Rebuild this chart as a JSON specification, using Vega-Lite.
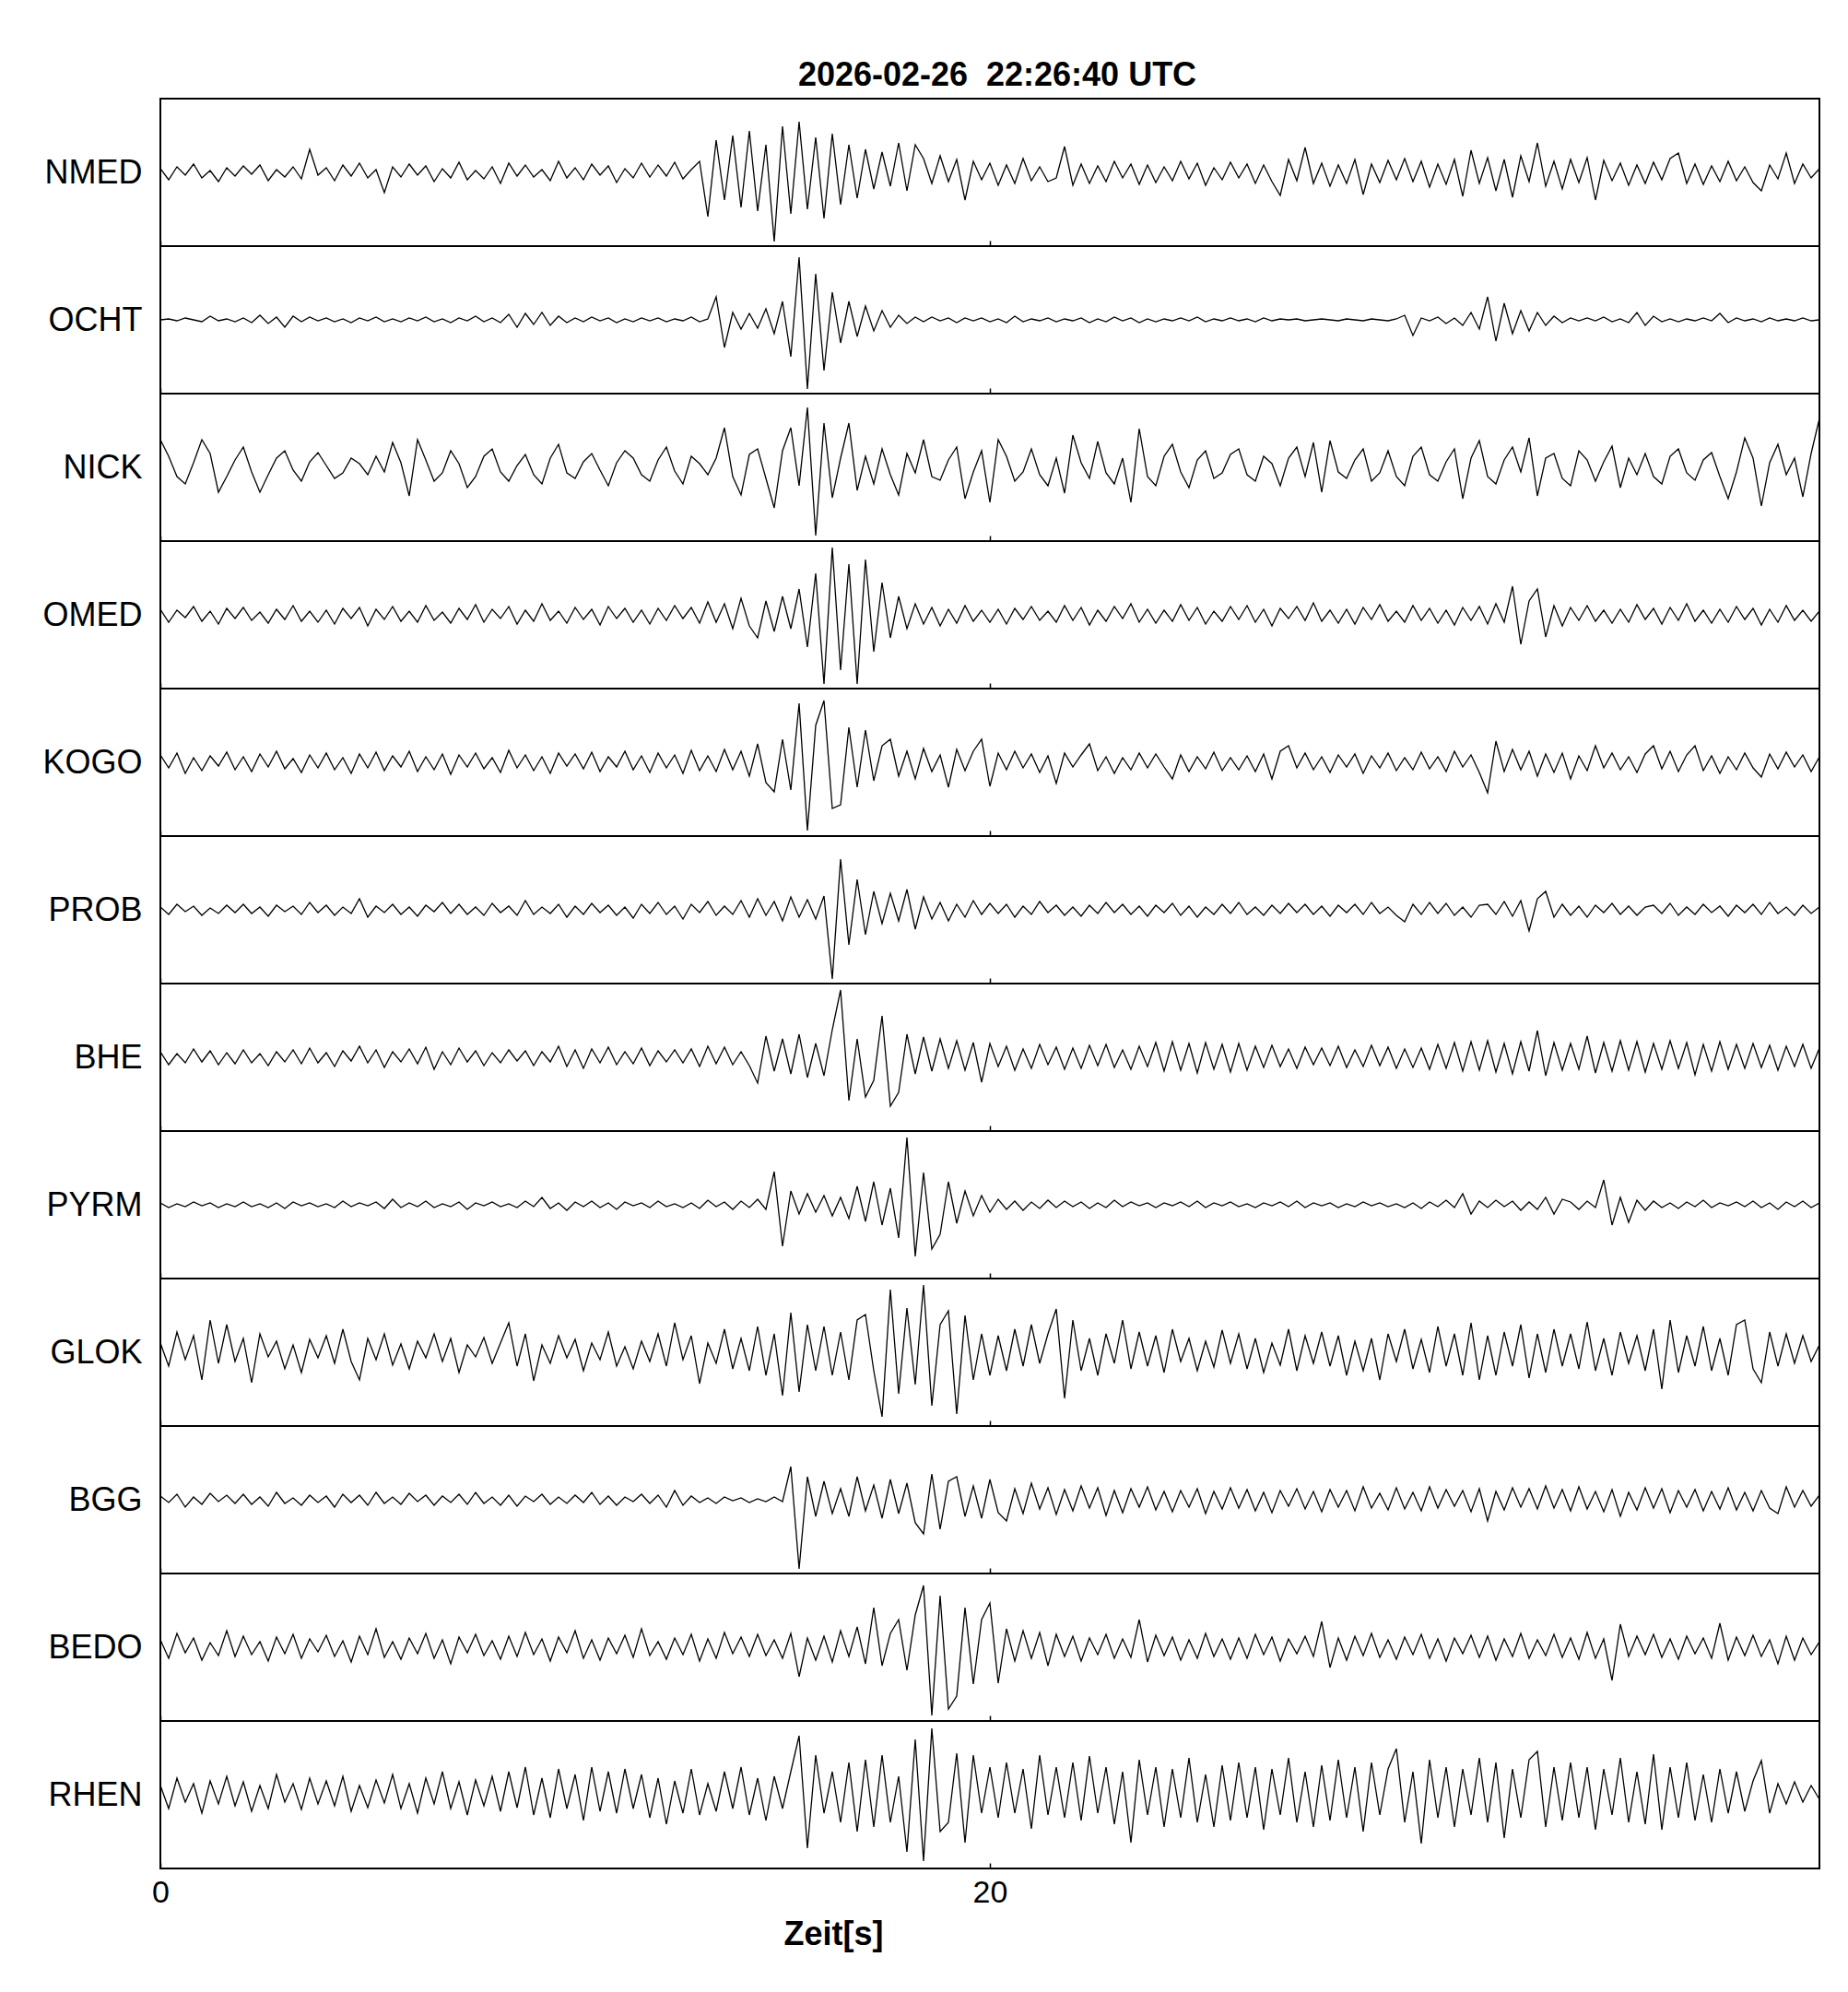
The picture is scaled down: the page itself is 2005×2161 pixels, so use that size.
{
"$schema": "https://vega.github.io/schema/vega-lite/v6.json",
"background": "white",
"padding": {"left": 44, "top": 64, "right": 33, "bottom": 10},
"title": {"text": "2026-02-26\u00a0 22:26:40 UTC", "fontSize": 36, "fontWeight": "bold", "font": "Liberation Sans", "color": "#000", "anchor": "middle", "frame": "group", "offset": 5, "dx": 8},
"spacing": 0,
"bounds": "flush",
"config": {
"font": "Liberation Sans",
"view": {"stroke": "#000", "strokeWidth": 2},
"axis": {"grid": false, "domain": false},
"axisX": {"tickSize": -6, "tickColor": "#000", "tickWidth": 1.5, "labelFlush": false, "labelFontSize": 34, "labelColor": "#000", "labelPadding": 42, "labelBaseline": "alphabetic", "titleFontSize": 36, "titleFontWeight": "bold", "titleColor": "#000", "titleX": 730, "titleY": 82, "titleBaseline": "alphabetic", "titleAlign": "center"},
"axisY": {"ticks": false, "labels": false, "titleAngle": 0, "titleAlign": "right", "titleBaseline": "middle", "titleX": -20, "titleY": 80, "titleFontSize": 36, "titleFontWeight": "normal", "titleColor": "#000"}
},
"datasets": {
"NMED": [
{"t":0,"v":4},{"t":0.2,"v":-8},{"t":0.4,"v":6},{"t":0.6,"v":-3},{"t":0.8,"v":9},{"t":1,"v":-6},{"t":1.2,"v":2},{"t":1.4,"v":-10},{"t":1.6,"v":5},{"t":1.8,"v":-4},
{"t":2,"v":7},{"t":2.2,"v":-2},{"t":2.4,"v":8},{"t":2.6,"v":-9},{"t":2.8,"v":3},{"t":3,"v":-5},{"t":3.2,"v":6},{"t":3.4,"v":-7},{"t":3.6,"v":25},{"t":3.8,"v":-3},
{"t":4,"v":5},{"t":4.2,"v":-9},{"t":4.4,"v":8},{"t":4.6,"v":-4},{"t":4.8,"v":10},{"t":5,"v":-6},{"t":5.2,"v":3},{"t":5.4,"v":-22},{"t":5.6,"v":6},{"t":5.8,"v":-5},
{"t":6,"v":9},{"t":6.2,"v":-3},{"t":6.4,"v":7},{"t":6.6,"v":-10},{"t":6.8,"v":4},{"t":7,"v":-6},{"t":7.2,"v":11},{"t":7.4,"v":-8},{"t":7.6,"v":2},{"t":7.8,"v":-7},
{"t":8,"v":6},{"t":8.2,"v":-12},{"t":8.4,"v":10},{"t":8.6,"v":-4},{"t":8.8,"v":8},{"t":9,"v":-5},{"t":9.2,"v":3},{"t":9.4,"v":-9},{"t":9.6,"v":12},{"t":9.8,"v":-6},
{"t":10,"v":5},{"t":10.2,"v":-8},{"t":10.4,"v":9},{"t":10.6,"v":-3},{"t":10.8,"v":7},{"t":11,"v":-11},{"t":11.2,"v":4},{"t":11.4,"v":-6},{"t":11.6,"v":10},{"t":11.8,"v":-5},
{"t":12,"v":8},{"t":12.2,"v":-4},{"t":12.4,"v":11},{"t":12.6,"v":-7},{"t":12.8,"v":3},{"t":13,"v":12},{"t":13.2,"v":-48},{"t":13.4,"v":35},{"t":13.6,"v":-30},{"t":13.8,"v":40},
{"t":14,"v":-38},{"t":14.2,"v":45},{"t":14.4,"v":-42},{"t":14.6,"v":30},{"t":14.8,"v":-75},{"t":15,"v":50},{"t":15.2,"v":-45},{"t":15.4,"v":55},{"t":15.6,"v":-40},{"t":15.8,"v":38},
{"t":16,"v":-50},{"t":16.2,"v":42},{"t":16.4,"v":-35},{"t":16.6,"v":30},{"t":16.8,"v":-28},{"t":17,"v":25},{"t":17.2,"v":-18},{"t":17.4,"v":22},{"t":17.6,"v":-15},{"t":17.8,"v":32},
{"t":18,"v":-20},{"t":18.2,"v":30},{"t":18.4,"v":15},{"t":18.6,"v":-12},{"t":18.8,"v":18},{"t":19,"v":-10},{"t":19.2,"v":14},{"t":19.4,"v":-30},{"t":19.6,"v":12},{"t":19.8,"v":-8},
{"t":20,"v":10},{"t":20.2,"v":-14},{"t":20.4,"v":8},{"t":20.6,"v":-12},{"t":20.8,"v":15},{"t":21,"v":-9},{"t":21.2,"v":6},{"t":21.4,"v":-10},{"t":21.6,"v":-6},{"t":21.8,"v":28},
{"t":22,"v":-14},{"t":22.2,"v":9},{"t":22.4,"v":-12},{"t":22.6,"v":7},{"t":22.8,"v":-10},{"t":23,"v":12},{"t":23.2,"v":-6},{"t":23.4,"v":9},{"t":23.6,"v":-13},{"t":23.8,"v":8},
{"t":24,"v":-11},{"t":24.2,"v":6},{"t":24.4,"v":-9},{"t":24.6,"v":12},{"t":24.8,"v":-7},{"t":25,"v":10},{"t":25.2,"v":-14},{"t":25.4,"v":5},{"t":25.6,"v":-8},{"t":25.8,"v":11},
{"t":26,"v":-6},{"t":26.2,"v":9},{"t":26.4,"v":-12},{"t":26.6,"v":8},{"t":26.8,"v":-10},{"t":27,"v":-25},{"t":27.2,"v":14},{"t":27.4,"v":-9},{"t":27.6,"v":27},{"t":27.8,"v":-12},
{"t":28,"v":10},{"t":28.2,"v":-15},{"t":28.4,"v":8},{"t":28.6,"v":-12},{"t":28.8,"v":14},{"t":29,"v":-24},{"t":29.2,"v":9},{"t":29.4,"v":-11},{"t":29.6,"v":13},{"t":29.8,"v":-8},
{"t":30,"v":15},{"t":30.2,"v":-10},{"t":30.4,"v":12},{"t":30.6,"v":-16},{"t":30.8,"v":9},{"t":31,"v":-13},{"t":31.2,"v":14},{"t":31.4,"v":-26},{"t":31.6,"v":24},{"t":31.8,"v":-12},
{"t":32,"v":16},{"t":32.2,"v":-20},{"t":32.4,"v":14},{"t":32.6,"v":-27},{"t":32.8,"v":18},{"t":33,"v":-10},{"t":33.2,"v":32},{"t":33.4,"v":-15},{"t":33.6,"v":12},{"t":33.8,"v":-18},
{"t":34,"v":14},{"t":34.2,"v":-11},{"t":34.4,"v":16},{"t":34.6,"v":-30},{"t":34.8,"v":13},{"t":35,"v":-9},{"t":35.2,"v":10},{"t":35.4,"v":-14},{"t":35.6,"v":8},{"t":35.8,"v":-12},
{"t":36,"v":11},{"t":36.2,"v":-8},{"t":36.4,"v":15},{"t":36.6,"v":21},{"t":36.8,"v":-12},{"t":37,"v":9},{"t":37.2,"v":-13},{"t":37.4,"v":7},{"t":37.6,"v":-10},{"t":37.8,"v":12},
{"t":38,"v":-9},{"t":38.2,"v":6},{"t":38.4,"v":-11},{"t":38.6,"v":-20},{"t":38.8,"v":8},{"t":39,"v":-7},{"t":39.2,"v":21},{"t":39.4,"v":-12},{"t":39.6,"v":9},{"t":39.8,"v":-6},
{"t":40,"v":4}
],
"OCHT": [
{"t":0,"v":0},{"t":0.2,"v":1},{"t":0.4,"v":-1},{"t":0.6,"v":2},{"t":0.8,"v":0},{"t":1,"v":-2},{"t":1.2,"v":4},{"t":1.4,"v":-1},{"t":1.6,"v":1},{"t":1.8,"v":-2},
{"t":2,"v":2},{"t":2.2,"v":-3},{"t":2.4,"v":5},{"t":2.6,"v":-4},{"t":2.8,"v":3},{"t":3,"v":-8},{"t":3.2,"v":4},{"t":3.4,"v":-2},{"t":3.6,"v":3},{"t":3.8,"v":-1},
{"t":4,"v":2},{"t":4.2,"v":-2},{"t":4.4,"v":1},{"t":4.6,"v":-3},{"t":4.8,"v":2},{"t":5,"v":-1},{"t":5.2,"v":3},{"t":5.4,"v":-2},{"t":5.6,"v":1},{"t":5.8,"v":-2},
{"t":6,"v":2},{"t":6.2,"v":-1},{"t":6.4,"v":3},{"t":6.6,"v":-2},{"t":6.8,"v":1},{"t":7,"v":-3},{"t":7.2,"v":2},{"t":7.4,"v":-1},{"t":7.6,"v":4},{"t":7.8,"v":-2},
{"t":8,"v":2},{"t":8.2,"v":-3},{"t":8.4,"v":6},{"t":8.6,"v":-8},{"t":8.8,"v":7},{"t":9,"v":-5},{"t":9.2,"v":8},{"t":9.4,"v":-6},{"t":9.6,"v":4},{"t":9.8,"v":-3},
{"t":10,"v":2},{"t":10.2,"v":-2},{"t":10.4,"v":3},{"t":10.6,"v":-1},{"t":10.8,"v":2},{"t":11,"v":-3},{"t":11.2,"v":1},{"t":11.4,"v":-2},{"t":11.6,"v":2},{"t":11.8,"v":-1},
{"t":12,"v":2},{"t":12.2,"v":-2},{"t":12.4,"v":1},{"t":12.6,"v":-1},{"t":12.8,"v":3},{"t":13,"v":-2},{"t":13.2,"v":1},{"t":13.4,"v":25},{"t":13.6,"v":-30},{"t":13.8,"v":8},
{"t":14,"v":-10},{"t":14.2,"v":7},{"t":14.4,"v":-9},{"t":14.6,"v":12},{"t":14.8,"v":-15},{"t":15,"v":20},{"t":15.2,"v":-40},{"t":15.4,"v":68},{"t":15.6,"v":-75},{"t":15.8,"v":50},
{"t":16,"v":-55},{"t":16.2,"v":30},{"t":16.4,"v":-25},{"t":16.6,"v":20},{"t":16.8,"v":-18},{"t":17,"v":15},{"t":17.2,"v":-12},{"t":17.4,"v":10},{"t":17.6,"v":-8},{"t":17.8,"v":5},
{"t":18,"v":-4},{"t":18.2,"v":3},{"t":18.4,"v":-2},{"t":18.6,"v":3},{"t":18.8,"v":-1},{"t":19,"v":2},{"t":19.2,"v":-3},{"t":19.4,"v":2},{"t":19.6,"v":-1},{"t":19.8,"v":2},
{"t":20,"v":-2},{"t":20.2,"v":1},{"t":20.4,"v":-3},{"t":20.6,"v":4},{"t":20.8,"v":-2},{"t":21,"v":1},{"t":21.2,"v":-1},{"t":21.4,"v":2},{"t":21.6,"v":-2},{"t":21.8,"v":1},
{"t":22,"v":-1},{"t":22.2,"v":2},{"t":22.4,"v":-3},{"t":22.6,"v":1},{"t":22.8,"v":-2},{"t":23,"v":3},{"t":23.2,"v":-1},{"t":23.4,"v":2},{"t":23.6,"v":-3},{"t":23.8,"v":1},
{"t":24,"v":-2},{"t":24.2,"v":1},{"t":24.4,"v":-1},{"t":24.6,"v":2},{"t":24.8,"v":-1},{"t":25,"v":3},{"t":25.2,"v":-2},{"t":25.4,"v":1},{"t":25.6,"v":-1},{"t":25.8,"v":2},
{"t":26,"v":-1},{"t":26.2,"v":1},{"t":26.4,"v":-2},{"t":26.6,"v":2},{"t":26.8,"v":-1},{"t":27,"v":1},{"t":27.2,"v":0},{"t":27.4,"v":1},{"t":27.6,"v":-1},{"t":27.8,"v":0},
{"t":28,"v":1},{"t":28.2,"v":0},{"t":28.4,"v":-1},{"t":28.6,"v":1},{"t":28.8,"v":0},{"t":29,"v":-1},{"t":29.2,"v":1},{"t":29.4,"v":0},{"t":29.6,"v":-1},{"t":29.8,"v":1},
{"t":30,"v":5},{"t":30.2,"v":-17},{"t":30.4,"v":2},{"t":30.6,"v":-1},{"t":30.8,"v":3},{"t":31,"v":-4},{"t":31.2,"v":2},{"t":31.4,"v":-6},{"t":31.6,"v":8},{"t":31.8,"v":-10},
{"t":32,"v":25},{"t":32.2,"v":-23},{"t":32.4,"v":18},{"t":32.6,"v":-15},{"t":32.8,"v":10},{"t":33,"v":-12},{"t":33.2,"v":8},{"t":33.4,"v":-6},{"t":33.6,"v":4},{"t":33.8,"v":-3},
{"t":34,"v":2},{"t":34.2,"v":-1},{"t":34.4,"v":2},{"t":34.6,"v":-1},{"t":34.8,"v":3},{"t":35,"v":-2},{"t":35.2,"v":1},{"t":35.4,"v":-3},{"t":35.6,"v":8},{"t":35.8,"v":-6},
{"t":36,"v":4},{"t":36.2,"v":-2},{"t":36.4,"v":1},{"t":36.6,"v":-2},{"t":36.8,"v":1},{"t":37,"v":-1},{"t":37.2,"v":2},{"t":37.4,"v":-1},{"t":37.6,"v":7},{"t":37.8,"v":-3},
{"t":38,"v":2},{"t":38.2,"v":-1},{"t":38.4,"v":1},{"t":38.6,"v":-2},{"t":38.8,"v":2},{"t":39,"v":-1},{"t":39.2,"v":1},{"t":39.4,"v":-1},{"t":39.6,"v":2},{"t":39.8,"v":-1},
{"t":40,"v":0}
],
"NICK": [
{"t":0,"v":30},{"t":0.2,"v":12},{"t":0.4,"v":-10},{"t":0.6,"v":-18},{"t":0.8,"v":5},{"t":1,"v":30},{"t":1.2,"v":15},{"t":1.4,"v":-27},{"t":1.6,"v":-10},{"t":1.8,"v":8},
{"t":2,"v":22},{"t":2.2,"v":-5},{"t":2.4,"v":-27},{"t":2.6,"v":-8},{"t":2.8,"v":10},{"t":3,"v":18},{"t":3.2,"v":-3},{"t":3.4,"v":-15},{"t":3.6,"v":6},{"t":3.8,"v":16},
{"t":4,"v":2},{"t":4.2,"v":-12},{"t":4.4,"v":-6},{"t":4.6,"v":10},{"t":4.8,"v":4},{"t":5,"v":-8},{"t":5.2,"v":12},{"t":5.4,"v":-5},{"t":5.6,"v":27},{"t":5.8,"v":5},
{"t":6,"v":-31},{"t":6.2,"v":30},{"t":6.4,"v":8},{"t":6.6,"v":-15},{"t":6.8,"v":-6},{"t":7,"v":18},{"t":7.2,"v":4},{"t":7.4,"v":-22},{"t":7.6,"v":-10},{"t":7.8,"v":12},
{"t":8,"v":20},{"t":8.2,"v":-5},{"t":8.4,"v":-15},{"t":8.6,"v":2},{"t":8.8,"v":14},{"t":9,"v":-8},{"t":9.2,"v":-18},{"t":9.4,"v":10},{"t":9.6,"v":25},{"t":9.8,"v":-6},
{"t":10,"v":-12},{"t":10.2,"v":6},{"t":10.4,"v":15},{"t":10.6,"v":-3},{"t":10.8,"v":-20},{"t":11,"v":5},{"t":11.2,"v":18},{"t":11.4,"v":10},{"t":11.6,"v":-8},{"t":11.8,"v":-15},
{"t":12,"v":8},{"t":12.2,"v":22},{"t":12.4,"v":-4},{"t":12.6,"v":-18},{"t":12.8,"v":12},{"t":13,"v":4},{"t":13.2,"v":-8},{"t":13.4,"v":10},{"t":13.6,"v":43},{"t":13.8,"v":-10},
{"t":14,"v":-30},{"t":14.2,"v":14},{"t":14.4,"v":20},{"t":14.6,"v":-12},{"t":14.8,"v":-44},{"t":15,"v":18},{"t":15.2,"v":43},{"t":15.4,"v":-20},{"t":15.6,"v":65},{"t":15.8,"v":-74},
{"t":16,"v":48},{"t":16.2,"v":-33},{"t":16.4,"v":10},{"t":16.6,"v":48},{"t":16.8,"v":-25},{"t":17,"v":12},{"t":17.2,"v":-18},{"t":17.4,"v":20},{"t":17.6,"v":-8},{"t":17.8,"v":-30},
{"t":18,"v":15},{"t":18.2,"v":-6},{"t":18.4,"v":30},{"t":18.6,"v":-10},{"t":18.8,"v":-14},{"t":19,"v":8},{"t":19.2,"v":22},{"t":19.4,"v":-34},{"t":19.6,"v":-5},{"t":19.8,"v":18},
{"t":20,"v":-38},{"t":20.2,"v":30},{"t":20.4,"v":12},{"t":20.6,"v":-15},{"t":20.8,"v":-5},{"t":21,"v":20},{"t":21.2,"v":-8},{"t":21.4,"v":-20},{"t":21.6,"v":10},{"t":21.8,"v":-28},
{"t":22,"v":35},{"t":22.2,"v":5},{"t":22.4,"v":-12},{"t":22.6,"v":28},{"t":22.8,"v":-6},{"t":23,"v":-18},{"t":23.2,"v":10},{"t":23.4,"v":-38},{"t":23.6,"v":42},{"t":23.8,"v":-10},
{"t":24,"v":-20},{"t":24.2,"v":12},{"t":24.4,"v":25},{"t":24.6,"v":-5},{"t":24.8,"v":-22},{"t":25,"v":8},{"t":25.2,"v":18},{"t":25.4,"v":-12},{"t":25.6,"v":-6},{"t":25.8,"v":14},
{"t":26,"v":20},{"t":26.2,"v":-8},{"t":26.4,"v":-15},{"t":26.6,"v":12},{"t":26.8,"v":4},{"t":27,"v":-20},{"t":27.2,"v":10},{"t":27.4,"v":22},{"t":27.6,"v":-10},{"t":27.8,"v":27},
{"t":28,"v":-27},{"t":28.2,"v":29},{"t":28.4,"v":-5},{"t":28.6,"v":-12},{"t":28.8,"v":8},{"t":29,"v":20},{"t":29.2,"v":-15},{"t":29.4,"v":-6},{"t":29.6,"v":18},{"t":29.8,"v":-10},
{"t":30,"v":-20},{"t":30.2,"v":12},{"t":30.4,"v":22},{"t":30.6,"v":-8},{"t":30.8,"v":-15},{"t":31,"v":6},{"t":31.2,"v":20},{"t":31.4,"v":-34},{"t":31.6,"v":10},{"t":31.8,"v":29},
{"t":32,"v":-10},{"t":32.2,"v":-18},{"t":32.4,"v":8},{"t":32.6,"v":22},{"t":32.8,"v":-5},{"t":33,"v":32},{"t":33.2,"v":-31},{"t":33.4,"v":10},{"t":33.6,"v":15},{"t":33.8,"v":-12},
{"t":34,"v":-20},{"t":34.2,"v":18},{"t":34.4,"v":8},{"t":34.6,"v":-15},{"t":34.8,"v":6},{"t":35,"v":23},{"t":35.2,"v":-22},{"t":35.4,"v":10},{"t":35.6,"v":-8},{"t":35.8,"v":15},
{"t":36,"v":-10},{"t":36.2,"v":-18},{"t":36.4,"v":12},{"t":36.6,"v":20},{"t":36.8,"v":-6},{"t":37,"v":-14},{"t":37.2,"v":8},{"t":37.4,"v":16},{"t":37.6,"v":-10},{"t":37.8,"v":-34},
{"t":38,"v":-5},{"t":38.2,"v":32},{"t":38.4,"v":10},{"t":38.6,"v":-42},{"t":38.8,"v":5},{"t":39,"v":25},{"t":39.2,"v":-8},{"t":39.4,"v":10},{"t":39.6,"v":-32},{"t":39.8,"v":15},
{"t":40,"v":53}
],
"OMED": [
{"t":0,"v":6},{"t":0.2,"v":-8},{"t":0.4,"v":5},{"t":0.6,"v":-3},{"t":0.8,"v":9},{"t":1,"v":-7},{"t":1.2,"v":4},{"t":1.4,"v":-10},{"t":1.6,"v":7},{"t":1.8,"v":-4},
{"t":2,"v":8},{"t":2.2,"v":-6},{"t":2.4,"v":3},{"t":2.6,"v":-9},{"t":2.8,"v":6},{"t":3,"v":-5},{"t":3.2,"v":10},{"t":3.4,"v":-7},{"t":3.6,"v":4},{"t":3.8,"v":-8},
{"t":4,"v":5},{"t":4.2,"v":-10},{"t":4.4,"v":7},{"t":4.6,"v":-4},{"t":4.8,"v":8},{"t":5,"v":-12},{"t":5.2,"v":6},{"t":5.4,"v":-5},{"t":5.6,"v":9},{"t":5.8,"v":-7},
{"t":6,"v":4},{"t":6.2,"v":-8},{"t":6.4,"v":10},{"t":6.6,"v":-6},{"t":6.8,"v":3},{"t":7,"v":-9},{"t":7.2,"v":7},{"t":7.4,"v":-5},{"t":7.6,"v":11},{"t":7.8,"v":-8},
{"t":8,"v":6},{"t":8.2,"v":-4},{"t":8.4,"v":9},{"t":8.6,"v":-10},{"t":8.8,"v":5},{"t":9,"v":-7},{"t":9.2,"v":12},{"t":9.4,"v":-6},{"t":9.6,"v":4},{"t":9.8,"v":-9},
{"t":10,"v":8},{"t":10.2,"v":-5},{"t":10.4,"v":6},{"t":10.6,"v":-11},{"t":10.8,"v":9},{"t":11,"v":-4},{"t":11.2,"v":7},{"t":11.4,"v":-8},{"t":11.6,"v":5},{"t":11.8,"v":-10},
{"t":12,"v":7},{"t":12.2,"v":-6},{"t":12.4,"v":10},{"t":12.6,"v":-4},{"t":12.8,"v":8},{"t":13,"v":-9},{"t":13.2,"v":14},{"t":13.4,"v":-8},{"t":13.6,"v":12},{"t":13.8,"v":-15},
{"t":14,"v":18},{"t":14.2,"v":-12},{"t":14.4,"v":-25},{"t":14.6,"v":15},{"t":14.8,"v":-18},{"t":15,"v":20},{"t":15.2,"v":-15},{"t":15.4,"v":28},{"t":15.6,"v":-35},{"t":15.8,"v":45},
{"t":16,"v":-75},{"t":16.2,"v":73},{"t":16.4,"v":-60},{"t":16.6,"v":55},{"t":16.8,"v":-75},{"t":17,"v":60},{"t":17.2,"v":-40},{"t":17.4,"v":35},{"t":17.6,"v":-25},{"t":17.8,"v":20},
{"t":18,"v":-15},{"t":18.2,"v":12},{"t":18.4,"v":-10},{"t":18.6,"v":8},{"t":18.8,"v":-12},{"t":19,"v":6},{"t":19.2,"v":-9},{"t":19.4,"v":10},{"t":19.6,"v":-7},{"t":19.8,"v":5},
{"t":20,"v":-8},{"t":20.2,"v":6},{"t":20.4,"v":-10},{"t":20.6,"v":7},{"t":20.8,"v":-5},{"t":21,"v":9},{"t":21.2,"v":-6},{"t":21.4,"v":4},{"t":21.6,"v":-8},{"t":21.8,"v":10},
{"t":22,"v":-6},{"t":22.2,"v":8},{"t":22.4,"v":-11},{"t":22.6,"v":5},{"t":22.8,"v":-7},{"t":23,"v":9},{"t":23.2,"v":-4},{"t":23.4,"v":12},{"t":23.6,"v":-8},{"t":23.8,"v":6},
{"t":24,"v":-9},{"t":24.2,"v":5},{"t":24.4,"v":-7},{"t":24.6,"v":11},{"t":24.8,"v":-6},{"t":25,"v":8},{"t":25.2,"v":-10},{"t":25.4,"v":4},{"t":25.6,"v":-7},{"t":25.8,"v":9},
{"t":26,"v":-5},{"t":26.2,"v":10},{"t":26.4,"v":-8},{"t":26.6,"v":6},{"t":26.8,"v":-12},{"t":27,"v":7},{"t":27.2,"v":-4},{"t":27.4,"v":9},{"t":27.6,"v":-6},{"t":27.8,"v":13},
{"t":28,"v":-7},{"t":28.2,"v":5},{"t":28.4,"v":-9},{"t":28.6,"v":6},{"t":28.8,"v":-10},{"t":29,"v":8},{"t":29.2,"v":-5},{"t":29.4,"v":11},{"t":29.6,"v":-7},{"t":29.8,"v":4},
{"t":30,"v":-8},{"t":30.2,"v":10},{"t":30.4,"v":-6},{"t":30.6,"v":7},{"t":30.8,"v":-9},{"t":31,"v":5},{"t":31.2,"v":-11},{"t":31.4,"v":8},{"t":31.6,"v":-6},{"t":31.8,"v":9},
{"t":32,"v":-10},{"t":32.2,"v":12},{"t":32.4,"v":-8},{"t":32.6,"v":31},{"t":32.8,"v":-32},{"t":33,"v":15},{"t":33.2,"v":28},{"t":33.4,"v":-24},{"t":33.6,"v":10},{"t":33.8,"v":-12},
{"t":34,"v":8},{"t":34.2,"v":-6},{"t":34.4,"v":10},{"t":34.6,"v":-7},{"t":34.8,"v":5},{"t":35,"v":-9},{"t":35.2,"v":6},{"t":35.4,"v":-8},{"t":35.6,"v":11},{"t":35.8,"v":-5},
{"t":36,"v":7},{"t":36.2,"v":-10},{"t":36.4,"v":8},{"t":36.6,"v":-6},{"t":36.8,"v":12},{"t":37,"v":-7},{"t":37.2,"v":5},{"t":37.4,"v":-9},{"t":37.6,"v":6},{"t":37.8,"v":-8},
{"t":38,"v":9},{"t":38.2,"v":-5},{"t":38.4,"v":7},{"t":38.6,"v":-11},{"t":38.8,"v":6},{"t":39,"v":-8},{"t":39.2,"v":10},{"t":39.4,"v":-6},{"t":39.6,"v":5},{"t":39.8,"v":-7},
{"t":40,"v":4}
],
"KOGO": [
{"t":0,"v":8},{"t":0.2,"v":-6},{"t":0.4,"v":10},{"t":0.6,"v":-12},{"t":0.8,"v":5},{"t":1,"v":-9},{"t":1.2,"v":7},{"t":1.4,"v":-4},{"t":1.6,"v":11},{"t":1.8,"v":-8},
{"t":2,"v":6},{"t":2.2,"v":-10},{"t":2.4,"v":9},{"t":2.6,"v":-5},{"t":2.8,"v":12},{"t":3,"v":-7},{"t":3.2,"v":4},{"t":3.4,"v":-11},{"t":3.6,"v":8},{"t":3.8,"v":-6},
{"t":4,"v":10},{"t":4.2,"v":-8},{"t":4.4,"v":5},{"t":4.6,"v":-12},{"t":4.8,"v":9},{"t":5,"v":-6},{"t":5.2,"v":11},{"t":5.4,"v":-9},{"t":5.6,"v":7},{"t":5.8,"v":-5},
{"t":6,"v":12},{"t":6.2,"v":-10},{"t":6.4,"v":6},{"t":6.6,"v":-8},{"t":6.8,"v":9},{"t":7,"v":-13},{"t":7.2,"v":8},{"t":7.4,"v":-5},{"t":7.6,"v":10},{"t":7.8,"v":-7},
{"t":8,"v":5},{"t":8.2,"v":-11},{"t":8.4,"v":13},{"t":8.6,"v":-6},{"t":8.8,"v":8},{"t":9,"v":-9},{"t":9.2,"v":6},{"t":9.4,"v":-12},{"t":9.6,"v":10},{"t":9.8,"v":-4},
{"t":10,"v":9},{"t":10.2,"v":-7},{"t":10.4,"v":11},{"t":10.6,"v":-10},{"t":10.8,"v":6},{"t":11,"v":-5},{"t":11.2,"v":12},{"t":11.4,"v":-8},{"t":11.6,"v":7},{"t":11.8,"v":-11},
{"t":12,"v":10},{"t":12.2,"v":-6},{"t":12.4,"v":8},{"t":12.6,"v":-12},{"t":12.8,"v":13},{"t":13,"v":-9},{"t":13.2,"v":7},{"t":13.4,"v":-10},{"t":13.6,"v":14},{"t":13.8,"v":-8},
{"t":14,"v":12},{"t":14.2,"v":-15},{"t":14.4,"v":20},{"t":14.6,"v":-22},{"t":14.8,"v":-32},{"t":15,"v":25},{"t":15.2,"v":-30},{"t":15.4,"v":64},{"t":15.6,"v":-74},{"t":15.8,"v":40},
{"t":16,"v":67},{"t":16.2,"v":-50},{"t":16.4,"v":-46},{"t":16.6,"v":38},{"t":16.8,"v":-27},{"t":17,"v":35},{"t":17.2,"v":-20},{"t":17.4,"v":18},{"t":17.6,"v":25},{"t":17.8,"v":-15},
{"t":18,"v":12},{"t":18.2,"v":-18},{"t":18.4,"v":15},{"t":18.6,"v":-10},{"t":18.8,"v":8},{"t":19,"v":-27},{"t":19.2,"v":14},{"t":19.4,"v":-9},{"t":19.6,"v":12},{"t":19.8,"v":25},
{"t":20,"v":-26},{"t":20.2,"v":10},{"t":20.4,"v":-8},{"t":20.6,"v":12},{"t":20.8,"v":-6},{"t":21,"v":9},{"t":21.2,"v":-11},{"t":21.4,"v":7},{"t":21.6,"v":-23},{"t":21.8,"v":10},
{"t":22,"v":-5},{"t":22.2,"v":8},{"t":22.4,"v":20},{"t":22.6,"v":-9},{"t":22.8,"v":6},{"t":23,"v":-12},{"t":23.2,"v":5},{"t":23.4,"v":-8},{"t":23.6,"v":10},{"t":23.8,"v":-6},
{"t":24,"v":9},{"t":24.2,"v":-5},{"t":24.4,"v":-18},{"t":24.6,"v":8},{"t":24.8,"v":-10},{"t":25,"v":6},{"t":25.2,"v":-7},{"t":25.4,"v":11},{"t":25.6,"v":-9},{"t":25.8,"v":5},
{"t":26,"v":-8},{"t":26.2,"v":7},{"t":26.4,"v":-10},{"t":26.6,"v":9},{"t":26.8,"v":-18},{"t":27,"v":12},{"t":27.2,"v":18},{"t":27.4,"v":-6},{"t":27.6,"v":10},{"t":27.8,"v":-8},
{"t":28,"v":6},{"t":28.2,"v":-11},{"t":28.4,"v":8},{"t":28.6,"v":-5},{"t":28.8,"v":9},{"t":29,"v":-12},{"t":29.2,"v":7},{"t":29.4,"v":-6},{"t":29.6,"v":10},{"t":29.8,"v":-9},
{"t":30,"v":5},{"t":30.2,"v":-8},{"t":30.4,"v":11},{"t":30.6,"v":-7},{"t":30.8,"v":6},{"t":31,"v":-10},{"t":31.2,"v":12},{"t":31.4,"v":-5},{"t":31.6,"v":8},{"t":31.8,"v":-11},
{"t":32,"v":-33},{"t":32.2,"v":23},{"t":32.4,"v":-10},{"t":32.6,"v":14},{"t":32.8,"v":-8},{"t":33,"v":12},{"t":33.2,"v":-15},{"t":33.4,"v":9},{"t":33.6,"v":-11},{"t":33.8,"v":10},
{"t":34,"v":-18},{"t":34.2,"v":7},{"t":34.4,"v":-9},{"t":34.6,"v":18},{"t":34.8,"v":-6},{"t":35,"v":10},{"t":35.2,"v":-8},{"t":35.4,"v":6},{"t":35.6,"v":-11},{"t":35.8,"v":9},
{"t":36,"v":18},{"t":36.2,"v":-7},{"t":36.4,"v":12},{"t":36.6,"v":-10},{"t":36.8,"v":8},{"t":37,"v":18},{"t":37.2,"v":-9},{"t":37.4,"v":7},{"t":37.6,"v":-12},{"t":37.8,"v":6},
{"t":38,"v":-8},{"t":38.2,"v":10},{"t":38.4,"v":-6},{"t":38.6,"v":-16},{"t":38.8,"v":9},{"t":39,"v":-7},{"t":39.2,"v":11},{"t":39.4,"v":-5},{"t":39.6,"v":8},{"t":39.8,"v":-10},
{"t":40,"v":6}
],
"PROB": [
{"t":0,"v":3},{"t":0.2,"v":-5},{"t":0.4,"v":6},{"t":0.6,"v":-2},{"t":0.8,"v":4},{"t":1,"v":-6},{"t":1.2,"v":2},{"t":1.4,"v":-4},{"t":1.6,"v":5},{"t":1.8,"v":-3},
{"t":2,"v":6},{"t":2.2,"v":-4},{"t":2.4,"v":3},{"t":2.6,"v":-7},{"t":2.8,"v":5},{"t":3,"v":-2},{"t":3.2,"v":4},{"t":3.4,"v":-5},{"t":3.6,"v":8},{"t":3.8,"v":-3},
{"t":4,"v":5},{"t":4.2,"v":-6},{"t":4.4,"v":3},{"t":4.6,"v":-4},{"t":4.8,"v":12},{"t":5,"v":-8},{"t":5.2,"v":4},{"t":5.4,"v":-3},{"t":5.6,"v":6},{"t":5.8,"v":-5},
{"t":6,"v":3},{"t":6.2,"v":-7},{"t":6.4,"v":5},{"t":6.6,"v":-2},{"t":6.8,"v":8},{"t":7,"v":-4},{"t":7.2,"v":6},{"t":7.4,"v":-5},{"t":7.6,"v":3},{"t":7.8,"v":-6},
{"t":8,"v":7},{"t":8.2,"v":-3},{"t":8.4,"v":4},{"t":8.6,"v":-6},{"t":8.8,"v":10},{"t":9,"v":-5},{"t":9.2,"v":3},{"t":9.4,"v":-4},{"t":9.6,"v":6},{"t":9.8,"v":-8},
{"t":10,"v":4},{"t":10.2,"v":-5},{"t":10.4,"v":7},{"t":10.6,"v":-3},{"t":10.8,"v":5},{"t":11,"v":-6},{"t":11.2,"v":3},{"t":11.4,"v":-9},{"t":11.6,"v":6},{"t":11.8,"v":-4},
{"t":12,"v":8},{"t":12.2,"v":-5},{"t":12.4,"v":4},{"t":12.6,"v":-10},{"t":12.8,"v":6},{"t":13,"v":-3},{"t":13.2,"v":9},{"t":13.4,"v":-6},{"t":13.6,"v":4},{"t":13.8,"v":-5},
{"t":14,"v":10},{"t":14.2,"v":-8},{"t":14.4,"v":12},{"t":14.6,"v":-6},{"t":14.8,"v":9},{"t":15,"v":-12},{"t":15.2,"v":14},{"t":15.4,"v":-8},{"t":15.6,"v":11},{"t":15.8,"v":-10},
{"t":16,"v":15},{"t":16.2,"v":-75},{"t":16.4,"v":55},{"t":16.6,"v":-38},{"t":16.8,"v":33},{"t":17,"v":-27},{"t":17.2,"v":20},{"t":17.4,"v":-15},{"t":17.6,"v":18},{"t":17.8,"v":-12},
{"t":18,"v":22},{"t":18.2,"v":-21},{"t":18.4,"v":14},{"t":18.6,"v":-10},{"t":18.8,"v":8},{"t":19,"v":-12},{"t":19.2,"v":6},{"t":19.4,"v":-8},{"t":19.6,"v":10},{"t":19.8,"v":-5},
{"t":20,"v":7},{"t":20.2,"v":-4},{"t":20.4,"v":6},{"t":20.6,"v":-8},{"t":20.8,"v":4},{"t":21,"v":-5},{"t":21.2,"v":9},{"t":21.4,"v":-3},{"t":21.6,"v":5},{"t":21.8,"v":-6},
{"t":22,"v":3},{"t":22.2,"v":-7},{"t":22.4,"v":5},{"t":22.6,"v":-4},{"t":22.8,"v":8},{"t":23,"v":-3},{"t":23.2,"v":6},{"t":23.4,"v":-5},{"t":23.6,"v":4},{"t":23.8,"v":-7},
{"t":24,"v":5},{"t":24.2,"v":-3},{"t":24.4,"v":7},{"t":24.6,"v":-6},{"t":24.8,"v":4},{"t":25,"v":-8},{"t":25.2,"v":3},{"t":25.4,"v":-5},{"t":25.6,"v":6},{"t":25.8,"v":-4},
{"t":26,"v":8},{"t":26.2,"v":-5},{"t":26.4,"v":3},{"t":26.6,"v":-6},{"t":26.8,"v":5},{"t":27,"v":-4},{"t":27.2,"v":7},{"t":27.4,"v":-3},{"t":27.6,"v":6},{"t":27.8,"v":-5},
{"t":28,"v":4},{"t":28.2,"v":-7},{"t":28.4,"v":5},{"t":28.6,"v":-3},{"t":28.8,"v":6},{"t":29,"v":-5},{"t":29.2,"v":8},{"t":29.4,"v":-4},{"t":29.6,"v":3},{"t":29.8,"v":-6},
{"t":30,"v":-13},{"t":30.2,"v":6},{"t":30.4,"v":-5},{"t":30.6,"v":8},{"t":30.8,"v":-4},{"t":31,"v":7},{"t":31.2,"v":-6},{"t":31.4,"v":3},{"t":31.6,"v":-8},{"t":31.8,"v":5},
{"t":32,"v":6},{"t":32.2,"v":-5},{"t":32.4,"v":9},{"t":32.6,"v":-7},{"t":32.8,"v":10},{"t":33,"v":-23},{"t":33.2,"v":12},{"t":33.4,"v":20},{"t":33.6,"v":-8},{"t":33.8,"v":6},
{"t":34,"v":-6},{"t":34.2,"v":4},{"t":34.4,"v":-8},{"t":34.6,"v":5},{"t":34.8,"v":-3},{"t":35,"v":7},{"t":35.2,"v":-5},{"t":35.4,"v":4},{"t":35.6,"v":-6},{"t":35.8,"v":3},
{"t":36,"v":5},{"t":36.2,"v":-4},{"t":36.4,"v":7},{"t":36.6,"v":-6},{"t":36.8,"v":3},{"t":37,"v":-5},{"t":37.2,"v":6},{"t":37.4,"v":-3},{"t":37.6,"v":4},{"t":37.8,"v":-7},
{"t":38,"v":5},{"t":38.2,"v":-3},{"t":38.4,"v":6},{"t":38.6,"v":-5},{"t":38.8,"v":8},{"t":39,"v":-4},{"t":39.2,"v":3},{"t":39.4,"v":-6},{"t":39.6,"v":5},{"t":39.8,"v":-4},
{"t":40,"v":3}
],
"BHE": [
{"t":0,"v":6},{"t":0.2,"v":-8},{"t":0.4,"v":4},{"t":0.6,"v":-6},{"t":0.8,"v":9},{"t":1,"v":-5},{"t":1.2,"v":7},{"t":1.4,"v":-8},{"t":1.6,"v":5},{"t":1.8,"v":-7},
{"t":2,"v":8},{"t":2.2,"v":-6},{"t":2.4,"v":4},{"t":2.6,"v":-9},{"t":2.8,"v":6},{"t":3,"v":-5},{"t":3.2,"v":8},{"t":3.4,"v":-7},{"t":3.6,"v":10},{"t":3.8,"v":-6},
{"t":4,"v":5},{"t":4.2,"v":-10},{"t":4.4,"v":7},{"t":4.6,"v":-4},{"t":4.8,"v":12},{"t":5,"v":-6},{"t":5.2,"v":8},{"t":5.4,"v":-11},{"t":5.6,"v":6},{"t":5.8,"v":-5},
{"t":6,"v":9},{"t":6.2,"v":-7},{"t":6.4,"v":11},{"t":6.6,"v":-13},{"t":6.8,"v":6},{"t":7,"v":-8},{"t":7.2,"v":10},{"t":7.4,"v":-5},{"t":7.6,"v":7},{"t":7.8,"v":-9},
{"t":8,"v":5},{"t":8.2,"v":-6},{"t":8.4,"v":8},{"t":8.6,"v":-4},{"t":8.8,"v":7},{"t":9,"v":-9},{"t":9.2,"v":6},{"t":9.4,"v":-5},{"t":9.6,"v":12},{"t":9.8,"v":-10},
{"t":10,"v":8},{"t":10.2,"v":-12},{"t":10.4,"v":9},{"t":10.6,"v":-6},{"t":10.8,"v":11},{"t":11,"v":-8},{"t":11.2,"v":6},{"t":11.4,"v":-7},{"t":11.6,"v":10},{"t":11.8,"v":-9},
{"t":12,"v":7},{"t":12.2,"v":-5},{"t":12.4,"v":8},{"t":12.6,"v":-6},{"t":12.8,"v":9},{"t":13,"v":-10},{"t":13.2,"v":12},{"t":13.4,"v":-7},{"t":13.6,"v":11},{"t":13.8,"v":-8},
{"t":14,"v":6},{"t":14.2,"v":-9},{"t":14.4,"v":-28},{"t":14.6,"v":23},{"t":14.8,"v":-15},{"t":15,"v":20},{"t":15.2,"v":-18},{"t":15.4,"v":25},{"t":15.6,"v":-22},{"t":15.8,"v":15},
{"t":16,"v":-20},{"t":16.2,"v":30},{"t":16.4,"v":73},{"t":16.6,"v":-47},{"t":16.8,"v":20},{"t":17,"v":-43},{"t":17.2,"v":-25},{"t":17.4,"v":45},{"t":17.6,"v":-53},{"t":17.8,"v":-38},
{"t":18,"v":25},{"t":18.2,"v":-18},{"t":18.4,"v":22},{"t":18.6,"v":-15},{"t":18.8,"v":20},{"t":19,"v":-12},{"t":19.2,"v":18},{"t":19.4,"v":-14},{"t":19.6,"v":16},{"t":19.8,"v":-27},
{"t":20,"v":15},{"t":20.2,"v":-10},{"t":20.4,"v":12},{"t":20.6,"v":-14},{"t":20.8,"v":9},{"t":21,"v":-12},{"t":21.2,"v":14},{"t":21.4,"v":-8},{"t":21.6,"v":11},{"t":21.8,"v":-13},
{"t":22,"v":10},{"t":22.2,"v":-12},{"t":22.4,"v":13},{"t":22.6,"v":-9},{"t":22.8,"v":14},{"t":23,"v":-11},{"t":23.2,"v":8},{"t":23.4,"v":-13},{"t":23.6,"v":12},{"t":23.8,"v":-10},
{"t":24,"v":16},{"t":24.2,"v":-15},{"t":24.4,"v":17},{"t":24.6,"v":-14},{"t":24.8,"v":15},{"t":25,"v":-17},{"t":25.2,"v":16},{"t":25.4,"v":-13},{"t":25.6,"v":14},{"t":25.8,"v":-16},
{"t":26,"v":15},{"t":26.2,"v":-14},{"t":26.4,"v":12},{"t":26.6,"v":-11},{"t":26.8,"v":13},{"t":27,"v":-10},{"t":27.2,"v":9},{"t":27.4,"v":-12},{"t":27.6,"v":11},{"t":27.8,"v":-8},
{"t":28,"v":10},{"t":28.2,"v":-9},{"t":28.4,"v":12},{"t":28.6,"v":-11},{"t":28.8,"v":8},{"t":29,"v":-10},{"t":29.2,"v":13},{"t":29.4,"v":-9},{"t":29.6,"v":11},{"t":29.8,"v":-12},
{"t":30,"v":9},{"t":30.2,"v":-11},{"t":30.4,"v":10},{"t":30.6,"v":-13},{"t":30.8,"v":14},{"t":31,"v":-12},{"t":31.2,"v":16},{"t":31.4,"v":-15},{"t":31.6,"v":17},{"t":31.8,"v":-14},
{"t":32,"v":18},{"t":32.2,"v":-16},{"t":32.4,"v":15},{"t":32.6,"v":-18},{"t":32.8,"v":17},{"t":33,"v":-15},{"t":33.2,"v":29},{"t":33.4,"v":-20},{"t":33.6,"v":16},{"t":33.8,"v":-14},
{"t":34,"v":15},{"t":34.2,"v":-13},{"t":34.4,"v":23},{"t":34.6,"v":-17},{"t":34.8,"v":16},{"t":35,"v":-15},{"t":35.2,"v":18},{"t":35.4,"v":-14},{"t":35.6,"v":17},{"t":35.8,"v":-16},
{"t":36,"v":15},{"t":36.2,"v":-13},{"t":36.4,"v":18},{"t":36.6,"v":-12},{"t":36.8,"v":16},{"t":37,"v":-19},{"t":37.2,"v":14},{"t":37.4,"v":-15},{"t":37.6,"v":17},{"t":37.8,"v":-13},
{"t":38,"v":14},{"t":38.2,"v":-12},{"t":38.4,"v":15},{"t":38.6,"v":-11},{"t":38.8,"v":13},{"t":39,"v":-14},{"t":39.2,"v":12},{"t":39.4,"v":-10},{"t":39.6,"v":14},{"t":39.8,"v":-12},
{"t":40,"v":10}
],
"PYRM": [
{"t":0,"v":2},{"t":0.2,"v":-3},{"t":0.4,"v":1},{"t":0.6,"v":-2},{"t":0.8,"v":3},{"t":1,"v":-1},{"t":1.2,"v":2},{"t":1.4,"v":-3},{"t":1.6,"v":1},{"t":1.8,"v":-2},
{"t":2,"v":3},{"t":2.2,"v":-2},{"t":2.4,"v":1},{"t":2.6,"v":-3},{"t":2.8,"v":2},{"t":3,"v":-4},{"t":3.2,"v":3},{"t":3.4,"v":-1},{"t":3.6,"v":2},{"t":3.8,"v":-2},
{"t":4,"v":1},{"t":4.2,"v":-3},{"t":4.4,"v":4},{"t":4.6,"v":-2},{"t":4.8,"v":2},{"t":5,"v":-1},{"t":5.2,"v":3},{"t":5.4,"v":-4},{"t":5.6,"v":6},{"t":5.8,"v":-3},
{"t":6,"v":2},{"t":6.2,"v":-2},{"t":6.4,"v":4},{"t":6.6,"v":-3},{"t":6.8,"v":1},{"t":7,"v":-2},{"t":7.2,"v":3},{"t":7.4,"v":-5},{"t":7.6,"v":2},{"t":7.8,"v":-1},
{"t":8,"v":3},{"t":8.2,"v":-2},{"t":8.4,"v":1},{"t":8.6,"v":-3},{"t":8.8,"v":4},{"t":9,"v":-2},{"t":9.2,"v":8},{"t":9.4,"v":-4},{"t":9.6,"v":2},{"t":9.8,"v":-6},
{"t":10,"v":3},{"t":10.2,"v":-2},{"t":10.4,"v":4},{"t":10.6,"v":-3},{"t":10.8,"v":2},{"t":11,"v":-5},{"t":11.2,"v":3},{"t":11.4,"v":-1},{"t":11.6,"v":2},{"t":11.8,"v":-3},
{"t":12,"v":4},{"t":12.2,"v":-2},{"t":12.4,"v":1},{"t":12.6,"v":-3},{"t":12.8,"v":2},{"t":13,"v":-4},{"t":13.2,"v":5},{"t":13.4,"v":-2},{"t":13.6,"v":3},{"t":13.8,"v":-5},
{"t":14,"v":4},{"t":14.2,"v":-3},{"t":14.4,"v":6},{"t":14.6,"v":-5},{"t":14.8,"v":36},{"t":15,"v":-45},{"t":15.2,"v":15},{"t":15.4,"v":-10},{"t":15.6,"v":12},{"t":15.8,"v":-8},
{"t":16,"v":10},{"t":16.2,"v":-12},{"t":16.4,"v":8},{"t":16.6,"v":-15},{"t":16.8,"v":20},{"t":17,"v":-18},{"t":17.2,"v":25},{"t":17.4,"v":-22},{"t":17.6,"v":18},{"t":17.8,"v":-36},
{"t":18,"v":73},{"t":18.2,"v":-56},{"t":18.4,"v":35},{"t":18.6,"v":-48},{"t":18.8,"v":-32},{"t":19,"v":25},{"t":19.2,"v":-20},{"t":19.4,"v":15},{"t":19.6,"v":-12},{"t":19.8,"v":10},
{"t":20,"v":-8},{"t":20.2,"v":6},{"t":20.4,"v":-5},{"t":20.6,"v":4},{"t":20.8,"v":-6},{"t":21,"v":3},{"t":21.2,"v":-4},{"t":21.4,"v":5},{"t":21.6,"v":-3},{"t":21.8,"v":4},
{"t":22,"v":-2},{"t":22.2,"v":3},{"t":22.4,"v":-4},{"t":22.6,"v":2},{"t":22.8,"v":-3},{"t":23,"v":5},{"t":23.2,"v":-2},{"t":23.4,"v":3},{"t":23.6,"v":-1},{"t":23.8,"v":2},
{"t":24,"v":-3},{"t":24.2,"v":2},{"t":24.4,"v":-1},{"t":24.6,"v":3},{"t":24.8,"v":-2},{"t":25,"v":4},{"t":25.2,"v":-3},{"t":25.4,"v":2},{"t":25.6,"v":-1},{"t":25.8,"v":3},
{"t":26,"v":-2},{"t":26.2,"v":1},{"t":26.4,"v":-3},{"t":26.6,"v":2},{"t":26.8,"v":-1},{"t":27,"v":3},{"t":27.2,"v":-2},{"t":27.4,"v":4},{"t":27.6,"v":-3},{"t":27.8,"v":2},
{"t":28,"v":-1},{"t":28.2,"v":2},{"t":28.4,"v":-3},{"t":28.6,"v":1},{"t":28.8,"v":-2},{"t":29,"v":3},{"t":29.2,"v":-1},{"t":29.4,"v":2},{"t":29.6,"v":-2},{"t":29.8,"v":1},
{"t":30,"v":-3},{"t":30.2,"v":2},{"t":30.4,"v":-4},{"t":30.6,"v":3},{"t":30.8,"v":-2},{"t":31,"v":5},{"t":31.2,"v":-3},{"t":31.4,"v":12},{"t":31.6,"v":-10},{"t":31.8,"v":4},
{"t":32,"v":-3},{"t":32.2,"v":5},{"t":32.4,"v":-2},{"t":32.6,"v":4},{"t":32.8,"v":-6},{"t":33,"v":3},{"t":33.2,"v":-5},{"t":33.4,"v":8},{"t":33.6,"v":-10},{"t":33.8,"v":6},
{"t":34,"v":3},{"t":34.2,"v":-5},{"t":34.4,"v":4},{"t":34.6,"v":-3},{"t":34.8,"v":27},{"t":35,"v":-22},{"t":35.2,"v":8},{"t":35.4,"v":-19},{"t":35.6,"v":5},{"t":35.8,"v":-6},
{"t":36,"v":4},{"t":36.2,"v":-3},{"t":36.4,"v":2},{"t":36.6,"v":-4},{"t":36.8,"v":3},{"t":37,"v":-2},{"t":37.2,"v":5},{"t":37.4,"v":-3},{"t":37.6,"v":2},{"t":37.8,"v":-1},
{"t":38,"v":3},{"t":38.2,"v":-2},{"t":38.4,"v":4},{"t":38.6,"v":-3},{"t":38.8,"v":2},{"t":39,"v":-5},{"t":39.2,"v":3},{"t":39.4,"v":-2},{"t":39.6,"v":4},{"t":39.8,"v":-3},
{"t":40,"v":2}
],
"GLOK": [
{"t":0,"v":10},{"t":0.2,"v":-15},{"t":0.4,"v":22},{"t":0.6,"v":-8},{"t":0.8,"v":18},{"t":1,"v":-30},{"t":1.2,"v":35},{"t":1.4,"v":-12},{"t":1.6,"v":30},{"t":1.8,"v":-10},
{"t":2,"v":15},{"t":2.2,"v":-33},{"t":2.4,"v":20},{"t":2.6,"v":-5},{"t":2.8,"v":12},{"t":3,"v":-18},{"t":3.2,"v":8},{"t":3.4,"v":-22},{"t":3.6,"v":14},{"t":3.8,"v":-6},
{"t":4,"v":18},{"t":4.2,"v":-12},{"t":4.4,"v":25},{"t":4.6,"v":-10},{"t":4.8,"v":-30},{"t":5,"v":15},{"t":5.2,"v":-8},{"t":5.4,"v":20},{"t":5.6,"v":-14},{"t":5.8,"v":9},
{"t":6,"v":-18},{"t":6.2,"v":12},{"t":6.4,"v":-6},{"t":6.6,"v":20},{"t":6.8,"v":-10},{"t":7,"v":15},{"t":7.2,"v":-22},{"t":7.4,"v":8},{"t":7.6,"v":-5},{"t":7.8,"v":16},
{"t":8,"v":-12},{"t":8.2,"v":10},{"t":8.4,"v":32},{"t":8.6,"v":-15},{"t":8.8,"v":20},{"t":9,"v":-31},{"t":9.2,"v":8},{"t":9.4,"v":-12},{"t":9.6,"v":18},{"t":9.8,"v":-6},
{"t":10,"v":14},{"t":10.2,"v":-20},{"t":10.4,"v":10},{"t":10.6,"v":-8},{"t":10.8,"v":22},{"t":11,"v":-15},{"t":11.2,"v":6},{"t":11.4,"v":-18},{"t":11.6,"v":12},{"t":11.8,"v":-10},
{"t":12,"v":20},{"t":12.2,"v":-15},{"t":12.4,"v":32},{"t":12.6,"v":-8},{"t":12.8,"v":18},{"t":13,"v":-34},{"t":13.2,"v":10},{"t":13.4,"v":-12},{"t":13.6,"v":25},{"t":13.8,"v":-18},
{"t":14,"v":15},{"t":14.2,"v":-20},{"t":14.4,"v":28},{"t":14.6,"v":-25},{"t":14.8,"v":20},{"t":15,"v":-47},{"t":15.2,"v":43},{"t":15.4,"v":-43},{"t":15.6,"v":30},{"t":15.8,"v":-20},
{"t":16,"v":28},{"t":16.2,"v":-25},{"t":16.4,"v":22},{"t":16.6,"v":-30},{"t":16.8,"v":35},{"t":17,"v":41},{"t":17.2,"v":-20},{"t":17.4,"v":-70},{"t":17.6,"v":68},{"t":17.8,"v":-45},
{"t":18,"v":48},{"t":18.2,"v":-35},{"t":18.4,"v":73},{"t":18.6,"v":-58},{"t":18.8,"v":30},{"t":19,"v":45},{"t":19.2,"v":-67},{"t":19.4,"v":40},{"t":19.6,"v":-30},{"t":19.8,"v":20},
{"t":20,"v":-25},{"t":20.2,"v":18},{"t":20.4,"v":-20},{"t":20.6,"v":25},{"t":20.8,"v":-15},{"t":21,"v":30},{"t":21.2,"v":-12},{"t":21.4,"v":20},{"t":21.6,"v":47},{"t":21.8,"v":-50},
{"t":22,"v":35},{"t":22.2,"v":-20},{"t":22.4,"v":15},{"t":22.6,"v":-25},{"t":22.8,"v":20},{"t":23,"v":-12},{"t":23.2,"v":35},{"t":23.4,"v":-18},{"t":23.6,"v":22},{"t":23.8,"v":-15},
{"t":24,"v":18},{"t":24.2,"v":-22},{"t":24.4,"v":25},{"t":24.6,"v":-10},{"t":24.8,"v":15},{"t":25,"v":-20},{"t":25.2,"v":12},{"t":25.4,"v":-16},{"t":25.6,"v":24},{"t":25.8,"v":-12},
{"t":26,"v":20},{"t":26.2,"v":-18},{"t":26.4,"v":15},{"t":26.6,"v":-22},{"t":26.8,"v":10},{"t":27,"v":-14},{"t":27.2,"v":25},{"t":27.4,"v":-20},{"t":27.6,"v":18},{"t":27.8,"v":-12},
{"t":28,"v":22},{"t":28.2,"v":-15},{"t":28.4,"v":18},{"t":28.6,"v":-25},{"t":28.8,"v":12},{"t":29,"v":-20},{"t":29.2,"v":15},{"t":29.4,"v":-30},{"t":29.6,"v":20},{"t":29.8,"v":-10},
{"t":30,"v":25},{"t":30.2,"v":-18},{"t":30.4,"v":14},{"t":30.6,"v":-22},{"t":30.8,"v":28},{"t":31,"v":-15},{"t":31.2,"v":20},{"t":31.4,"v":-25},{"t":31.6,"v":32},{"t":31.8,"v":-30},
{"t":32,"v":18},{"t":32.2,"v":-25},{"t":32.4,"v":22},{"t":32.6,"v":-15},{"t":32.8,"v":30},{"t":33,"v":-28},{"t":33.2,"v":20},{"t":33.4,"v":-22},{"t":33.6,"v":25},{"t":33.8,"v":-15},
{"t":34,"v":20},{"t":34.2,"v":-18},{"t":34.4,"v":33},{"t":34.6,"v":-20},{"t":34.8,"v":15},{"t":35,"v":-25},{"t":35.2,"v":22},{"t":35.4,"v":-12},{"t":35.6,"v":18},{"t":35.8,"v":-20},
{"t":36,"v":25},{"t":36.2,"v":-40},{"t":36.4,"v":35},{"t":36.6,"v":-22},{"t":36.8,"v":18},{"t":37,"v":-15},{"t":37.2,"v":28},{"t":37.4,"v":-20},{"t":37.6,"v":15},{"t":37.8,"v":-25},
{"t":38,"v":30},{"t":38.2,"v":35},{"t":38.4,"v":-18},{"t":38.6,"v":-33},{"t":38.8,"v":22},{"t":39,"v":-15},{"t":39.2,"v":20},{"t":39.4,"v":-12},{"t":39.6,"v":18},{"t":39.8,"v":-10},
{"t":40,"v":8}
],
"BGG": [
{"t":0,"v":4},{"t":0.2,"v":-3},{"t":0.4,"v":6},{"t":0.6,"v":-8},{"t":0.8,"v":3},{"t":1,"v":-5},{"t":1.2,"v":7},{"t":1.4,"v":-2},{"t":1.6,"v":5},{"t":1.8,"v":-4},
{"t":2,"v":6},{"t":2.2,"v":-5},{"t":2.4,"v":3},{"t":2.6,"v":-7},{"t":2.8,"v":8},{"t":3,"v":-4},{"t":3.2,"v":2},{"t":3.4,"v":-6},{"t":3.6,"v":5},{"t":3.8,"v":-3},
{"t":4,"v":4},{"t":4.2,"v":-8},{"t":4.4,"v":6},{"t":4.6,"v":-3},{"t":4.8,"v":5},{"t":5,"v":-6},{"t":5.2,"v":8},{"t":5.4,"v":-4},{"t":5.6,"v":3},{"t":5.8,"v":-5},
{"t":6,"v":7},{"t":6.2,"v":-2},{"t":6.4,"v":5},{"t":6.6,"v":-6},{"t":6.8,"v":4},{"t":7,"v":-3},{"t":7.2,"v":6},{"t":7.4,"v":-5},{"t":7.6,"v":8},{"t":7.8,"v":-4},
{"t":8,"v":3},{"t":8.2,"v":-6},{"t":8.4,"v":5},{"t":8.6,"v":-7},{"t":8.8,"v":4},{"t":9,"v":-2},{"t":9.2,"v":6},{"t":9.4,"v":-5},{"t":9.6,"v":3},{"t":9.8,"v":-4},
{"t":10,"v":5},{"t":10.2,"v":-3},{"t":10.4,"v":8},{"t":10.6,"v":-5},{"t":10.8,"v":4},{"t":11,"v":-6},{"t":11.2,"v":3},{"t":11.4,"v":-2},{"t":11.6,"v":6},{"t":11.8,"v":-4},
{"t":12,"v":5},{"t":12.2,"v":-8},{"t":12.4,"v":10},{"t":12.6,"v":-6},{"t":12.8,"v":4},{"t":13,"v":-3},{"t":13.2,"v":2},{"t":13.4,"v":-4},{"t":13.6,"v":3},{"t":13.8,"v":-1},
{"t":14,"v":2},{"t":14.2,"v":-3},{"t":14.4,"v":1},{"t":14.6,"v":-2},{"t":14.8,"v":3},{"t":15,"v":-2},{"t":15.2,"v":36},{"t":15.4,"v":-75},{"t":15.6,"v":25},{"t":15.8,"v":-18},
{"t":16,"v":20},{"t":16.2,"v":-15},{"t":16.4,"v":12},{"t":16.6,"v":-18},{"t":16.8,"v":25},{"t":17,"v":-12},{"t":17.2,"v":16},{"t":17.4,"v":-20},{"t":17.6,"v":22},{"t":17.8,"v":-15},
{"t":18,"v":18},{"t":18.2,"v":-25},{"t":18.4,"v":-37},{"t":18.6,"v":28},{"t":18.8,"v":-32},{"t":19,"v":20},{"t":19.2,"v":25},{"t":19.4,"v":-18},{"t":19.6,"v":15},{"t":19.8,"v":-20},
{"t":20,"v":22},{"t":20.2,"v":-14},{"t":20.4,"v":-23},{"t":20.6,"v":12},{"t":20.8,"v":-15},{"t":21,"v":18},{"t":21.2,"v":-10},{"t":21.4,"v":13},{"t":21.6,"v":-16},{"t":21.8,"v":11},
{"t":22,"v":-12},{"t":22.2,"v":15},{"t":22.4,"v":-9},{"t":22.6,"v":13},{"t":22.8,"v":-17},{"t":23,"v":10},{"t":23.2,"v":-14},{"t":23.4,"v":12},{"t":23.6,"v":-8},{"t":23.8,"v":14},
{"t":24,"v":-11},{"t":24.2,"v":9},{"t":24.4,"v":-13},{"t":24.6,"v":10},{"t":24.8,"v":-8},{"t":25,"v":12},{"t":25.2,"v":-15},{"t":25.4,"v":9},{"t":25.6,"v":-10},{"t":25.8,"v":13},
{"t":26,"v":-9},{"t":26.2,"v":11},{"t":26.4,"v":-12},{"t":26.6,"v":8},{"t":26.8,"v":-14},{"t":27,"v":10},{"t":27.2,"v":-7},{"t":27.4,"v":12},{"t":27.6,"v":-10},{"t":27.8,"v":9},
{"t":28,"v":-13},{"t":28.2,"v":11},{"t":28.4,"v":-8},{"t":28.6,"v":10},{"t":28.8,"v":-12},{"t":29,"v":14},{"t":29.2,"v":-9},{"t":29.4,"v":7},{"t":29.6,"v":-11},{"t":29.8,"v":13},
{"t":30,"v":-10},{"t":30.2,"v":8},{"t":30.4,"v":-12},{"t":30.6,"v":14},{"t":30.8,"v":-9},{"t":31,"v":11},{"t":31.2,"v":-7},{"t":31.4,"v":10},{"t":31.6,"v":-13},{"t":31.8,"v":12},
{"t":32,"v":-23},{"t":32.2,"v":9},{"t":32.4,"v":-11},{"t":32.6,"v":13},{"t":32.8,"v":-8},{"t":33,"v":12},{"t":33.2,"v":-10},{"t":33.4,"v":15},{"t":33.6,"v":-9},{"t":33.8,"v":11},
{"t":34,"v":-12},{"t":34.2,"v":14},{"t":34.4,"v":-10},{"t":34.6,"v":9},{"t":34.8,"v":-13},{"t":35,"v":11},{"t":35.2,"v":-18},{"t":35.4,"v":8},{"t":35.6,"v":-11},{"t":35.8,"v":13},
{"t":36,"v":-9},{"t":36.2,"v":12},{"t":36.4,"v":-14},{"t":36.6,"v":10},{"t":36.8,"v":-8},{"t":37,"v":11},{"t":37.2,"v":-12},{"t":37.4,"v":9},{"t":37.6,"v":-10},{"t":37.8,"v":13},
{"t":38,"v":-11},{"t":38.2,"v":8},{"t":38.4,"v":-12},{"t":38.6,"v":10},{"t":38.8,"v":-9},{"t":39,"v":-15},{"t":39.2,"v":14},{"t":39.4,"v":-8},{"t":39.6,"v":10},{"t":39.8,"v":-7},
{"t":40,"v":5}
],
"BEDO": [
{"t":0,"v":8},{"t":0.2,"v":-12},{"t":0.4,"v":15},{"t":0.6,"v":-6},{"t":0.8,"v":10},{"t":1,"v":-14},{"t":1.2,"v":5},{"t":1.4,"v":-9},{"t":1.6,"v":18},{"t":1.8,"v":-10},
{"t":2,"v":12},{"t":2.2,"v":-8},{"t":2.4,"v":6},{"t":2.6,"v":-15},{"t":2.8,"v":11},{"t":3,"v":-7},{"t":3.2,"v":14},{"t":3.4,"v":-12},{"t":3.6,"v":9},{"t":3.8,"v":-5},
{"t":4,"v":13},{"t":4.2,"v":-10},{"t":4.4,"v":7},{"t":4.6,"v":-16},{"t":4.8,"v":12},{"t":5,"v":-8},{"t":5.2,"v":20},{"t":5.4,"v":-11},{"t":5.6,"v":6},{"t":5.8,"v":-13},
{"t":6,"v":10},{"t":6.2,"v":-7},{"t":6.4,"v":15},{"t":6.6,"v":-12},{"t":6.8,"v":8},{"t":7,"v":-18},{"t":7.2,"v":11},{"t":7.4,"v":-6},{"t":7.6,"v":14},{"t":7.8,"v":-9},
{"t":8,"v":7},{"t":8.2,"v":-13},{"t":8.4,"v":12},{"t":8.6,"v":-10},{"t":8.8,"v":16},{"t":9,"v":-8},{"t":9.2,"v":9},{"t":9.4,"v":-15},{"t":9.6,"v":11},{"t":9.8,"v":-6},
{"t":10,"v":18},{"t":10.2,"v":-12},{"t":10.4,"v":8},{"t":10.6,"v":-14},{"t":10.8,"v":10},{"t":11,"v":-7},{"t":11.2,"v":13},{"t":11.4,"v":-11},{"t":11.6,"v":20},{"t":11.8,"v":-9},
{"t":12,"v":6},{"t":12.2,"v":-13},{"t":12.4,"v":10},{"t":12.6,"v":-8},{"t":12.8,"v":14},{"t":13,"v":-15},{"t":13.2,"v":9},{"t":13.4,"v":-12},{"t":13.6,"v":16},{"t":13.8,"v":-7},
{"t":14,"v":11},{"t":14.2,"v":-10},{"t":14.4,"v":14},{"t":14.6,"v":-9},{"t":14.8,"v":8},{"t":15,"v":-12},{"t":15.2,"v":15},{"t":15.4,"v":-32},{"t":15.6,"v":10},{"t":15.8,"v":-14},
{"t":16,"v":12},{"t":16.2,"v":-16},{"t":16.4,"v":18},{"t":16.6,"v":-10},{"t":16.8,"v":22},{"t":17,"v":-18},{"t":17.2,"v":43},{"t":17.4,"v":-20},{"t":17.6,"v":15},{"t":17.8,"v":30},
{"t":18,"v":-25},{"t":18.2,"v":35},{"t":18.4,"v":67},{"t":18.6,"v":-74},{"t":18.8,"v":56},{"t":19,"v":-67},{"t":19.2,"v":-53},{"t":19.4,"v":43},{"t":19.6,"v":-40},{"t":19.8,"v":30},
{"t":20,"v":48},{"t":20.2,"v":-39},{"t":20.4,"v":20},{"t":20.6,"v":-15},{"t":20.8,"v":18},{"t":21,"v":-12},{"t":21.2,"v":16},{"t":21.4,"v":-20},{"t":21.6,"v":14},{"t":21.8,"v":-10},
{"t":22,"v":12},{"t":22.2,"v":-15},{"t":22.4,"v":10},{"t":22.6,"v":-8},{"t":22.8,"v":14},{"t":23,"v":-12},{"t":23.2,"v":9},{"t":23.4,"v":-11},{"t":23.6,"v":30},{"t":23.8,"v":-16},
{"t":24,"v":13},{"t":24.2,"v":-9},{"t":24.4,"v":11},{"t":24.6,"v":-14},{"t":24.8,"v":8},{"t":25,"v":-12},{"t":25.2,"v":15},{"t":25.4,"v":-10},{"t":25.6,"v":9},{"t":25.8,"v":-13},
{"t":26,"v":10},{"t":26.2,"v":-12},{"t":26.4,"v":14},{"t":26.6,"v":-8},{"t":26.8,"v":11},{"t":27,"v":-15},{"t":27.2,"v":9},{"t":27.4,"v":-7},{"t":27.6,"v":12},{"t":27.8,"v":-10},
{"t":28,"v":28},{"t":28.2,"v":-22},{"t":28.4,"v":10},{"t":28.6,"v":-14},{"t":28.8,"v":12},{"t":29,"v":-9},{"t":29.2,"v":15},{"t":29.4,"v":-11},{"t":29.6,"v":8},{"t":29.8,"v":-13},
{"t":30,"v":11},{"t":30.2,"v":-8},{"t":30.4,"v":14},{"t":30.6,"v":-12},{"t":30.8,"v":9},{"t":31,"v":-15},{"t":31.2,"v":10},{"t":31.4,"v":-7},{"t":31.6,"v":13},{"t":31.8,"v":-11},
{"t":32,"v":12},{"t":32.2,"v":-14},{"t":32.4,"v":9},{"t":32.6,"v":-10},{"t":32.8,"v":15},{"t":33,"v":-12},{"t":33.2,"v":8},{"t":33.4,"v":-9},{"t":33.6,"v":14},{"t":33.8,"v":-11},
{"t":34,"v":10},{"t":34.2,"v":-13},{"t":34.4,"v":16},{"t":34.6,"v":-12},{"t":34.8,"v":9},{"t":35,"v":-36},{"t":35.2,"v":25},{"t":35.4,"v":-10},{"t":35.6,"v":12},{"t":35.8,"v":-8},
{"t":36,"v":14},{"t":36.2,"v":-11},{"t":36.4,"v":9},{"t":36.6,"v":-13},{"t":36.8,"v":12},{"t":37,"v":-7},{"t":37.2,"v":10},{"t":37.4,"v":-12},{"t":37.6,"v":26},{"t":37.8,"v":-14},
{"t":38,"v":11},{"t":38.2,"v":-9},{"t":38.4,"v":13},{"t":38.6,"v":-10},{"t":38.8,"v":8},{"t":39,"v":-18},{"t":39.2,"v":12},{"t":39.4,"v":-14},{"t":39.6,"v":10},{"t":39.8,"v":-8},
{"t":40,"v":6}
],
"RHEN": [
{"t":0,"v":10},{"t":0.2,"v":-15},{"t":0.4,"v":18},{"t":0.6,"v":-8},{"t":0.8,"v":12},{"t":1,"v":-20},{"t":1.2,"v":15},{"t":1.4,"v":-10},{"t":1.6,"v":20},{"t":1.8,"v":-12},
{"t":2,"v":14},{"t":2.2,"v":-18},{"t":2.4,"v":10},{"t":2.6,"v":-15},{"t":2.8,"v":22},{"t":3,"v":-8},{"t":3.2,"v":12},{"t":3.4,"v":-16},{"t":3.6,"v":18},{"t":3.8,"v":-10},
{"t":4,"v":15},{"t":4.2,"v":-12},{"t":4.4,"v":20},{"t":4.6,"v":-18},{"t":4.8,"v":10},{"t":5,"v":-14},{"t":5.2,"v":16},{"t":5.4,"v":-9},{"t":5.6,"v":22},{"t":5.8,"v":-15},
{"t":6,"v":12},{"t":6.2,"v":-20},{"t":6.4,"v":18},{"t":6.6,"v":-10},{"t":6.8,"v":25},{"t":7,"v":-15},{"t":7.2,"v":14},{"t":7.4,"v":-22},{"t":7.6,"v":16},{"t":7.8,"v":-12},
{"t":8,"v":20},{"t":8.2,"v":-18},{"t":8.4,"v":25},{"t":8.6,"v":-14},{"t":8.8,"v":30},{"t":9,"v":-22},{"t":9.2,"v":18},{"t":9.4,"v":-25},{"t":9.6,"v":28},{"t":9.8,"v":-15},
{"t":10,"v":22},{"t":10.2,"v":-28},{"t":10.4,"v":30},{"t":10.6,"v":-18},{"t":10.8,"v":25},{"t":11,"v":-20},{"t":11.2,"v":28},{"t":11.4,"v":-15},{"t":11.6,"v":22},{"t":11.8,"v":-25},
{"t":12,"v":18},{"t":12.2,"v":-32},{"t":12.4,"v":15},{"t":12.6,"v":-20},{"t":12.8,"v":28},{"t":13,"v":-22},{"t":13.2,"v":12},{"t":13.4,"v":-18},{"t":13.6,"v":25},{"t":13.8,"v":-15},
{"t":14,"v":30},{"t":14.2,"v":-22},{"t":14.4,"v":18},{"t":14.6,"v":-28},{"t":14.8,"v":20},{"t":15,"v":-15},{"t":15.2,"v":25},{"t":15.4,"v":64},{"t":15.6,"v":-58},{"t":15.8,"v":43},
{"t":16,"v":-20},{"t":16.2,"v":25},{"t":16.4,"v":-30},{"t":16.6,"v":35},{"t":16.8,"v":-40},{"t":17,"v":38},{"t":17.2,"v":-35},{"t":17.4,"v":43},{"t":17.6,"v":-30},{"t":17.8,"v":20},
{"t":18,"v":-62},{"t":18.2,"v":60},{"t":18.4,"v":-72},{"t":18.6,"v":72},{"t":18.8,"v":-40},{"t":19,"v":-30},{"t":19.2,"v":45},{"t":19.4,"v":-52},{"t":19.6,"v":43},{"t":19.8,"v":-20},
{"t":20,"v":30},{"t":20.2,"v":-25},{"t":20.4,"v":35},{"t":20.6,"v":-20},{"t":20.8,"v":28},{"t":21,"v":-37},{"t":21.2,"v":43},{"t":21.4,"v":-22},{"t":21.6,"v":30},{"t":21.8,"v":-25},
{"t":22,"v":35},{"t":22.2,"v":-28},{"t":22.4,"v":42},{"t":22.6,"v":-20},{"t":22.8,"v":30},{"t":23,"v":-32},{"t":23.2,"v":25},{"t":23.4,"v":-52},{"t":23.6,"v":38},{"t":23.8,"v":-22},
{"t":24,"v":30},{"t":24.2,"v":-35},{"t":24.4,"v":28},{"t":24.6,"v":-25},{"t":24.8,"v":40},{"t":25,"v":-30},{"t":25.2,"v":22},{"t":25.4,"v":-35},{"t":25.6,"v":32},{"t":25.8,"v":-28},
{"t":26,"v":35},{"t":26.2,"v":-25},{"t":26.4,"v":30},{"t":26.6,"v":-38},{"t":26.8,"v":28},{"t":27,"v":-22},{"t":27.2,"v":40},{"t":27.4,"v":-30},{"t":27.6,"v":25},{"t":27.8,"v":-35},
{"t":28,"v":32},{"t":28.2,"v":-28},{"t":28.4,"v":38},{"t":28.6,"v":-25},{"t":28.8,"v":30},{"t":29,"v":-40},{"t":29.2,"v":35},{"t":29.4,"v":-22},{"t":29.6,"v":28},{"t":29.8,"v":50},
{"t":30,"v":-30},{"t":30.2,"v":25},{"t":30.4,"v":-53},{"t":30.6,"v":38},{"t":30.8,"v":-25},{"t":31,"v":30},{"t":31.2,"v":-35},{"t":31.4,"v":28},{"t":31.6,"v":-22},{"t":31.8,"v":40},
{"t":32,"v":-30},{"t":32.2,"v":35},{"t":32.4,"v":-47},{"t":32.6,"v":28},{"t":32.8,"v":-25},{"t":33,"v":38},{"t":33.2,"v":47},{"t":33.4,"v":-35},{"t":33.6,"v":30},{"t":33.8,"v":-28},
{"t":34,"v":35},{"t":34.2,"v":-25},{"t":34.4,"v":30},{"t":34.6,"v":-38},{"t":34.8,"v":28},{"t":35,"v":-22},{"t":35.2,"v":40},{"t":35.4,"v":-30},{"t":35.6,"v":25},{"t":35.8,"v":-32},
{"t":36,"v":44},{"t":36.2,"v":-38},{"t":36.4,"v":30},{"t":36.6,"v":-25},{"t":36.8,"v":35},{"t":37,"v":-28},{"t":37.2,"v":22},{"t":37.4,"v":-30},{"t":37.6,"v":28},{"t":37.8,"v":-20},
{"t":38,"v":25},{"t":38.2,"v":-18},{"t":38.4,"v":15},{"t":38.6,"v":37},{"t":38.8,"v":-20},{"t":39,"v":12},{"t":39.2,"v":-10},{"t":39.4,"v":14},{"t":39.6,"v":-8},{"t":39.8,"v":10},
{"t":40,"v":-5}
]
},
"vconcat": [
{"data":{"name":"NMED"},"width":1800,"height":160,"mark":{"type":"line","color":"#000","strokeWidth":1.3,"clip":true},"encoding":{"x":{"field":"t","type":"quantitative","scale":{"domain":[0,40],"nice":false,"zero":false},"axis":{"values":[0,20],"labels":false,"title":null}},"y":{"field":"v","type":"quantitative","scale":{"domain":[-80,80],"nice":false},"axis":{"title":"NMED"}}}},
{"data":{"name":"OCHT"},"width":1800,"height":160,"mark":{"type":"line","color":"#000","strokeWidth":1.3,"clip":true},"encoding":{"x":{"field":"t","type":"quantitative","scale":{"domain":[0,40],"nice":false,"zero":false},"axis":{"values":[0,20],"labels":false,"title":null}},"y":{"field":"v","type":"quantitative","scale":{"domain":[-80,80],"nice":false},"axis":{"title":"OCHT"}}}},
{"data":{"name":"NICK"},"width":1800,"height":160,"mark":{"type":"line","color":"#000","strokeWidth":1.3,"clip":true},"encoding":{"x":{"field":"t","type":"quantitative","scale":{"domain":[0,40],"nice":false,"zero":false},"axis":{"values":[0,20],"labels":false,"title":null}},"y":{"field":"v","type":"quantitative","scale":{"domain":[-80,80],"nice":false},"axis":{"title":"NICK"}}}},
{"data":{"name":"OMED"},"width":1800,"height":160,"mark":{"type":"line","color":"#000","strokeWidth":1.3,"clip":true},"encoding":{"x":{"field":"t","type":"quantitative","scale":{"domain":[0,40],"nice":false,"zero":false},"axis":{"values":[0,20],"labels":false,"title":null}},"y":{"field":"v","type":"quantitative","scale":{"domain":[-80,80],"nice":false},"axis":{"title":"OMED"}}}},
{"data":{"name":"KOGO"},"width":1800,"height":160,"mark":{"type":"line","color":"#000","strokeWidth":1.3,"clip":true},"encoding":{"x":{"field":"t","type":"quantitative","scale":{"domain":[0,40],"nice":false,"zero":false},"axis":{"values":[0,20],"labels":false,"title":null}},"y":{"field":"v","type":"quantitative","scale":{"domain":[-80,80],"nice":false},"axis":{"title":"KOGO"}}}},
{"data":{"name":"PROB"},"width":1800,"height":160,"mark":{"type":"line","color":"#000","strokeWidth":1.3,"clip":true},"encoding":{"x":{"field":"t","type":"quantitative","scale":{"domain":[0,40],"nice":false,"zero":false},"axis":{"values":[0,20],"labels":false,"title":null}},"y":{"field":"v","type":"quantitative","scale":{"domain":[-80,80],"nice":false},"axis":{"title":"PROB"}}}},
{"data":{"name":"BHE"},"width":1800,"height":160,"mark":{"type":"line","color":"#000","strokeWidth":1.3,"clip":true},"encoding":{"x":{"field":"t","type":"quantitative","scale":{"domain":[0,40],"nice":false,"zero":false},"axis":{"values":[0,20],"labels":false,"title":null}},"y":{"field":"v","type":"quantitative","scale":{"domain":[-80,80],"nice":false},"axis":{"title":"BHE"}}}},
{"data":{"name":"PYRM"},"width":1800,"height":160,"mark":{"type":"line","color":"#000","strokeWidth":1.3,"clip":true},"encoding":{"x":{"field":"t","type":"quantitative","scale":{"domain":[0,40],"nice":false,"zero":false},"axis":{"values":[0,20],"labels":false,"title":null}},"y":{"field":"v","type":"quantitative","scale":{"domain":[-80,80],"nice":false},"axis":{"title":"PYRM"}}}},
{"data":{"name":"GLOK"},"width":1800,"height":160,"mark":{"type":"line","color":"#000","strokeWidth":1.3,"clip":true},"encoding":{"x":{"field":"t","type":"quantitative","scale":{"domain":[0,40],"nice":false,"zero":false},"axis":{"values":[0,20],"labels":false,"title":null}},"y":{"field":"v","type":"quantitative","scale":{"domain":[-80,80],"nice":false},"axis":{"title":"GLOK"}}}},
{"data":{"name":"BGG"},"width":1800,"height":160,"mark":{"type":"line","color":"#000","strokeWidth":1.3,"clip":true},"encoding":{"x":{"field":"t","type":"quantitative","scale":{"domain":[0,40],"nice":false,"zero":false},"axis":{"values":[0,20],"labels":false,"title":null}},"y":{"field":"v","type":"quantitative","scale":{"domain":[-80,80],"nice":false},"axis":{"title":"BGG"}}}},
{"data":{"name":"BEDO"},"width":1800,"height":160,"mark":{"type":"line","color":"#000","strokeWidth":1.3,"clip":true},"encoding":{"x":{"field":"t","type":"quantitative","scale":{"domain":[0,40],"nice":false,"zero":false},"axis":{"values":[0,20],"labels":false,"title":null}},"y":{"field":"v","type":"quantitative","scale":{"domain":[-80,80],"nice":false},"axis":{"title":"BEDO"}}}},
{"data":{"name":"RHEN"},"width":1800,"height":160,"mark":{"type":"line","color":"#000","strokeWidth":1.3,"clip":true},"encoding":{"x":{"field":"t","type":"quantitative","scale":{"domain":[0,40],"nice":false,"zero":false},"axis":{"values":[0,20],"title":"Zeit[s]"}},"y":{"field":"v","type":"quantitative","scale":{"domain":[-80,80],"nice":false},"axis":{"title":"RHEN"}}}}
]
}
